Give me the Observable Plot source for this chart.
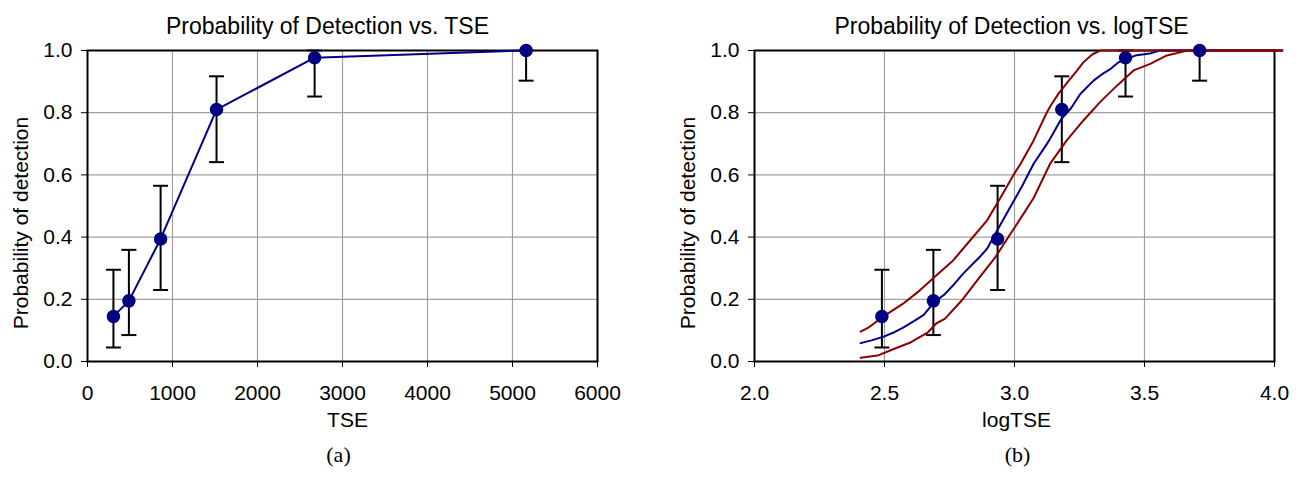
<!DOCTYPE html>
<html><head><meta charset="utf-8">
<script src="https://cdn.jsdelivr.net/npm/d3@7"></script>
<script src="https://cdn.jsdelivr.net/npm/@observablehq/plot@0.6"></script>
<style>
body{margin:0;background:#fff;}
#wrap{position:relative;width:1310px;height:480px;overflow:hidden;}
#wrap svg{position:absolute;top:0;overflow:visible;}
</style></head>
<body><div id="wrap"></div>
<script>
// ---- data ----
const TSE      = [305, 487, 860, 1518, 2672, 5160];
const logTSE   = [2.490, 2.688, 2.935, 3.182, 3.427, 3.712];
const pod      = [0.145, 0.195, 0.394, 0.810, 0.977, 1.000];
const podLower = [0.045, 0.085, 0.230, 0.641, 0.852, 0.903];
const podUpper = [0.295, 0.359, 0.565, 0.917, 1.000, 1.000];

const fitX = [2.408,2.45,2.497,2.54,2.57,2.61,2.651,2.691,2.73,2.764,2.80,2.829,2.865,2.894,2.936,2.991,3.030,3.073,3.121,3.137,3.177,3.218,3.253,3.304,3.339,3.368,3.40,3.427,3.47,3.52,3.558,4.03];
const fitP = [0.059,0.068,0.080,0.095,0.108,0.128,0.150,0.191,0.215,0.245,0.280,0.305,0.335,0.362,0.425,0.507,0.565,0.635,0.695,0.716,0.776,0.815,0.860,0.903,0.925,0.940,0.962,0.972,0.985,0.990,1.0,1.0];

const upX = [2.408,2.44,2.49,2.505,2.57,2.635,2.70,2.764,2.829,2.894,2.945,2.996,3.023,3.073,3.121,3.137,3.170,3.201,3.235,3.265,3.30,3.331,4.03];
const upP = [0.096,0.110,0.141,0.150,0.185,0.228,0.277,0.325,0.389,0.453,0.525,0.600,0.635,0.710,0.795,0.820,0.862,0.895,0.930,0.962,0.988,1.0,1.0];

const loX = [2.408,2.473,2.538,2.602,2.667,2.700,2.732,2.797,2.861,2.926,2.996,3.040,3.073,3.137,3.201,3.265,3.329,3.394,3.458,3.522,3.586,3.657,3.671,4.03];
const loP = [0.012,0.019,0.041,0.062,0.094,0.123,0.137,0.196,0.266,0.335,0.425,0.482,0.525,0.636,0.711,0.775,0.834,0.887,0.936,0.957,0.984,0.998,1.0,1.0];

const tseTicks  = [0,1000,2000,3000,4000,5000,6000];
const logTicks  = [2.0,2.5,3.0,3.5,4.0];
const probTicks = [0,0.2,0.4,0.6,0.8,1.0];
const tseGrid   = [1000,2000,3000,4000,5000];
const logGrid   = [2.5,3.0,3.5];
const probGrid  = [0.2,0.4,0.6,0.8];

const titles   = ["Probability of Detection vs. TSE", "Probability of Detection vs. logTSE"];
const xLabels  = ["TSE", "logTSE"];
const yLabel   = "Probability of detection";
const captions = ["(a)", "(b)"];

// ---- build ----
const SANS = "Liberation Sans, Arial, sans-serif";
const SERIF = "Liberation Serif, Times New Roman, serif";
const NAVY = "#000080";
const DRED = "#8b0000";
const capSymbol = {draw(ctx){ ctx.moveTo(-7.5,0); ctx.lineTo(7.5,0); }};

const pts = (xs) => xs.map((x,i)=>({x, p: pod[i], lo: podLower[i], hi: podUpper[i]}));
const series = (xs, ps) => xs.map((x,i)=>({x, p: ps[i]}));

function panel({xDomain, xTicks, xGrid, xFmt, title, xLabel, caption, ml, mr, plotW, titleDx, xLabDx, capDx, extra, xs}) {
  const data = pts(xs);
  return Plot.plot({
    width: ml + plotW + mr,
    height: 480,
    marginLeft: ml, marginRight: mr, marginTop: 50, marginBottom: 119,
    style: {fontFamily: SANS, fontSize: "21px", color: "#000", background: "transparent", overflow: "visible"},
    x: {domain: xDomain},
    y: {domain: [0, 1]},
    marks: [
      Plot.gridX(xGrid, {stroke: "#a0a0a0", strokeOpacity: 1, strokeWidth: 1.2}),
      Plot.gridY(probGrid, {stroke: "#a0a0a0", strokeOpacity: 1, strokeWidth: 1.2}),
      Plot.axisX({ticks: xTicks, tickFormat: xFmt, tickSize: 6, tickPadding: 18, label: null, fontSize: 21}),
      Plot.axisY({ticks: probTicks, tickFormat: d3.format(".1f"), tickSize: 6, tickPadding: 9, label: null, fontSize: 21}),
      Plot.frame({stroke: "#000", strokeWidth: 2}),
      Plot.ruleX(data, {x: "x", y1: "lo", y2: "hi", stroke: "#000", strokeWidth: 2}),
      Plot.dot(data, {x: "x", y: "lo", symbol: capSymbol, r: 2, fill: "none", stroke: "#000", strokeWidth: 2}),
      Plot.dot(data, {x: "x", y: "hi", symbol: capSymbol, r: 2, fill: "none", stroke: "#000", strokeWidth: 2}),
      ...extra(data),
      Plot.dot(data, {x: "x", y: "p", r: 6, fill: NAVY, stroke: NAVY}),
      Plot.text([title], {frameAnchor: "top", dy: -33, dx: titleDx, fontSize: 23, fontFamily: SANS}),
      Plot.text([xLabel], {frameAnchor: "bottom", dy: 65, dx: xLabDx, fontSize: 21, fontFamily: SANS}),
      Plot.text([yLabel], {frameAnchor: "left", textAnchor: "middle", dx: -66, dy: 17, rotate: -90, fontSize: 21, fontFamily: SANS}),
      Plot.text([caption], {frameAnchor: "bottom", dy: 100, dx: capDx, fontSize: 22, fontFamily: SERIF})
    ]
  });
}

const left = panel({
  xDomain: [0, 6000], xTicks: tseTicks, xGrid: tseGrid, xFmt: d => String(d),
  title: titles[0], xLabel: xLabels[0], caption: captions[0],
  ml: 87, mr: 53, plotW: 510, titleDx: -15, xLabDx: 5, capDx: -4, xs: TSE,
  extra: (data) => [Plot.line(data, {x: "x", y: "p", stroke: NAVY, strokeWidth: 2})]
});
left.style.left = "0px";

const right = panel({
  xDomain: [2, 4], xTicks: logTicks, xGrid: logGrid, xFmt: d3.format(".1f"),
  title: titles[1], xLabel: xLabels[1], caption: captions[1],
  ml: 104, mr: 36, plotW: 520, titleDx: -3, xLabDx: 2, capDx: 3, xs: logTSE,
  extra: () => [
    Plot.line(series(fitX, fitP), {x: "x", y: "p", stroke: "#00008b", strokeWidth: 2}),
    Plot.line(series(loX, loP), {x: "x", y: "p", stroke: DRED, strokeWidth: 2}),
    Plot.line(series(upX, upP), {x: "x", y: "p", stroke: DRED, strokeWidth: 2})
  ]
});
right.style.left = "650px";

document.getElementById("wrap").append(left, right);
</script>
</body></html>
